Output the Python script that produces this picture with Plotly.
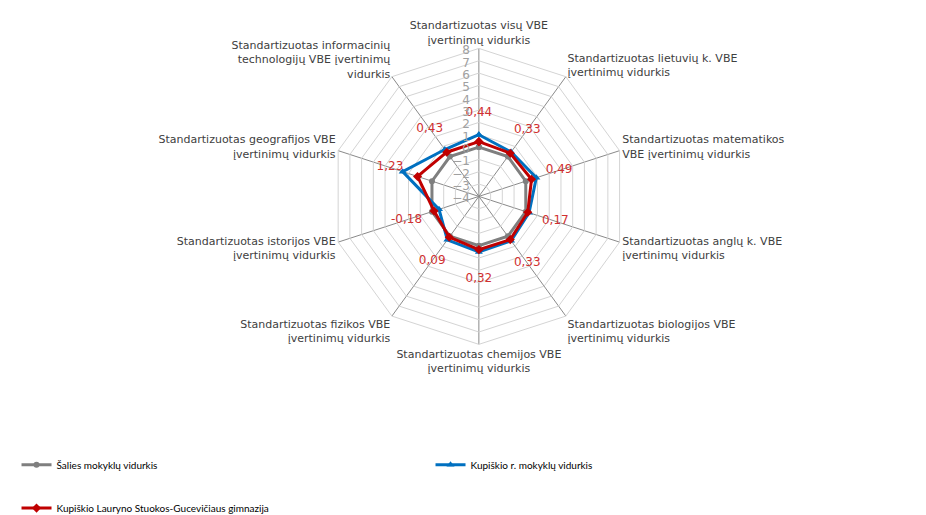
import plotly.graph_objects as go

CATEGORIES = [
    "Standartizuotas visų VBE<br>įvertinimų vidurkis",
    "Standartizuotas lietuvių k. VBE<br>įvertinimų vidurkis",
    "Standartizuotas matematikos<br>VBE įvertinimų vidurkis",
    "Standartizuotas anglų k. VBE<br>įvertinimų vidurkis",
    "Standartizuotas biologijos VBE<br>įvertinimų vidurkis",
    "Standartizuotas chemijos VBE<br>įvertinimų vidurkis",
    "Standartizuotas fizikos VBE<br>įvertinimų vidurkis",
    "Standartizuotas istorijos VBE<br>įvertinimų vidurkis",
    "Standartizuotas geografijos VBE<br>įvertinimų vidurkis",
    "Standartizuotas informacinių<br>technologijų VBE įvertinimų<br>vidurkis",
]

SALIES = [0, 0, 0, 0, 0, 0, 0, 0, 0, 0]
KUPISKIO_R = [1.0, 0.45, 0.9, 0.28, 0.45, 0.5, 0.35, -0.6, 2.5, 0.7]
GIMNAZIJA = [0.44, 0.33, 0.49, 0.17, 0.33, 0.32, 0.09, -0.18, 1.23, 0.43]

RADIAL_TICKS = list(range(-4, 9))

NAMES = [
    "Šalies mokyklų vidurkis",
    "Kupiškio r. mokyklų vidurkis",
    "Kupiškio Lauryno Stuokos-Gucevičiaus gimnazija",
]

LABEL_OFFSET = 2.35


def closed(seq):
    return list(seq) + [seq[0]]


labels = [f"{v:.2f}".replace(".", ",") for v in GIMNAZIJA]

fig = go.Figure()

fig.add_trace(go.Scatterpolar(
    r=closed(SALIES), theta=closed(CATEGORIES), name=NAMES[0],
    mode="lines+markers", cliponaxis=True,
    line=dict(color="#7f7f7f", width=3),
    marker=dict(symbol="circle", size=6, color="#7f7f7f"),
    legend="legend",
))
fig.add_trace(go.Scatterpolar(
    r=closed(KUPISKIO_R), theta=closed(CATEGORIES), name=NAMES[1],
    mode="lines+markers", cliponaxis=True,
    line=dict(color="#0070c0", width=3),
    marker=dict(symbol="triangle-up", size=7, color="#0070c0"),
    legend="legend",
))
fig.add_trace(go.Scatterpolar(
    r=closed(GIMNAZIJA), theta=closed(CATEGORIES), name=NAMES[2],
    mode="lines+markers", cliponaxis=True,
    line=dict(color="#c00000", width=3),
    marker=dict(symbol="diamond", size=7, color="#c00000"),
    legend="legend2",
))
fig.add_trace(go.Scatterpolar(
    r=[v + LABEL_OFFSET for v in GIMNAZIJA], theta=list(CATEGORIES),
    mode="text", cliponaxis=True,
    text=labels,
    textfont=dict(family="DejaVu Sans", size=12, color="#d03030"),
    showlegend=False, hoverinfo="skip",
))

fig.update_layout(
    width=926, height=515,
    margin=dict(l=0, r=0, t=0, b=0),
    paper_bgcolor="white",
    polar=dict(
        domain=dict(x=[0.0235, 0.9935], y=[0.3379, 0.9204]),
        bgcolor="white",
        gridshape="linear",
        radialaxis=dict(
            range=[-4, 8], tickvals=RADIAL_TICKS, angle=90,
            side="counterclockwise",
            showline=False, ticks="",
            gridcolor="#d4d4d4", gridwidth=1,
            tickfont=dict(family="DejaVu Sans", size=12, color="#a0a0a0"),
        ),
        angularaxis=dict(
            type="category", categoryarray=CATEGORIES,
            direction="clockwise", rotation=90,
            showgrid=True, gridcolor="#8a8a8a", gridwidth=1,
            showline=True, linecolor="#d4d4d4", linewidth=1,
            ticks="",
            tickfont=dict(family="DejaVu Sans", size=11, color="#404040"),
        ),
    ),
    legend=dict(
        orientation="h", x=0.0092, y=1 - 463 / 515, xanchor="left", yanchor="middle",
        entrywidth=369, font=dict(family="Lato", size=10, color="#000000"),
        bgcolor="rgba(0,0,0,0)",
    ),
    legend2=dict(
        orientation="h", x=0.0092, y=1 - 507 / 515, xanchor="left", yanchor="middle",
        font=dict(family="Lato", size=10, color="#000000"),
        bgcolor="rgba(0,0,0,0)",
    ),
)

fig.write_html("out.html")
